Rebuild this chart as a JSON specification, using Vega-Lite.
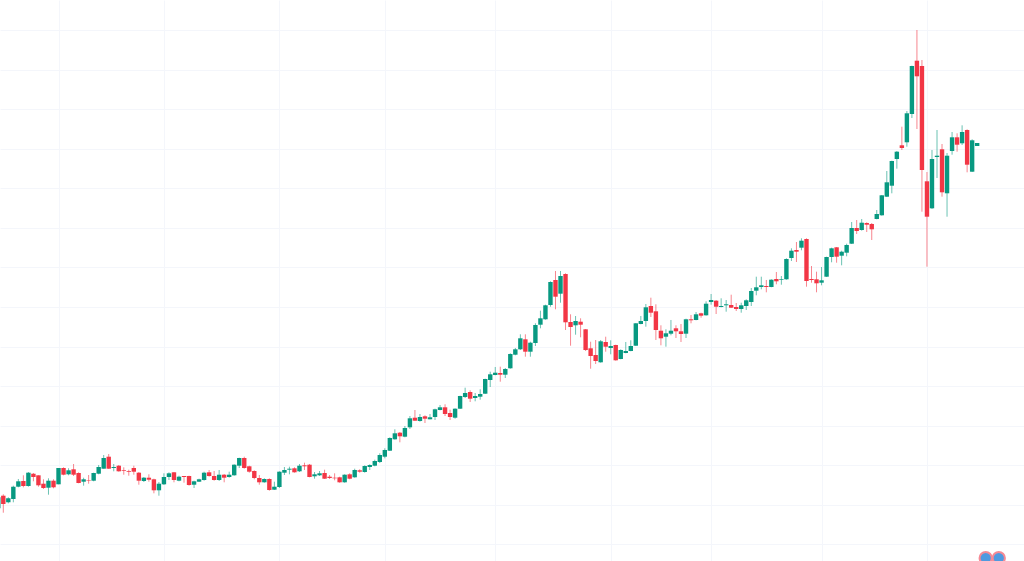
{"$schema":"https://vega.github.io/schema/vega-lite/v6.json","width":1024,"height":561,"padding":0,"autosize":{"type":"none"},"background":"#ffffff","view":{"stroke":null},
"datasets":{"logo":[{"i":195.7,"p":3},{"i":198.3,"p":3}],"candles":[
{"i":-1,"o":52.7,"h":64.3,"l":51,"c":63.7},{"i":0,"o":65.3,"h":66.7,"l":48.3,"c":57},{"i":1,"o":58.7,"h":63.7,"l":57.7,"c":62.7},{"i":2,"o":62,"h":75.3,"l":58.7,"c":74.3},{"i":3,"o":74.3,"h":82,"l":73.7,"c":79.7},{"i":4,"o":80,"h":85.7,"l":73.7,"c":75},{"i":5,"o":75,"h":89,"l":74.3,"c":88.3},{"i":6,"o":87.3,"h":88,"l":79.7,"c":84},{"i":7,"o":85.7,"h":85.7,"l":74.3,"c":75.7},{"i":8,"o":77.3,"h":81.7,"l":72,"c":73},{"i":9,"o":73.3,"h":82.7,"l":66.3,"c":80.3},
{"i":10,"o":80.3,"h":81.7,"l":72.7,"c":73.7},{"i":11,"o":76.7,"h":93,"l":76.7,"c":93},{"i":12,"o":93,"h":93.7,"l":85.7,"c":86.3},{"i":13,"o":86.7,"h":92.7,"l":85.7,"c":90.7},{"i":14,"o":91.7,"h":97,"l":85,"c":86.3},{"i":15,"o":88,"h":88.7,"l":77.7,"c":78},{"i":16,"o":79.3,"h":83.3,"l":75.3,"c":81.7},{"i":17,"o":81,"h":86,"l":77.3,"c":80.5},{"i":18,"o":80.3,"h":88.3,"l":79.7,"c":88},{"i":19,"o":87.3,"h":96,"l":86.7,"c":94},
{"i":20,"o":92.3,"h":106,"l":92.3,"c":103},{"i":21,"o":104.3,"h":107,"l":92,"c":92.3},{"i":22,"o":93,"h":97,"l":89.7,"c":94},{"i":23,"o":95.3,"h":96,"l":89.3,"c":89.7},{"i":24,"o":91,"h":93.7,"l":86.3,"c":90.3},{"i":25,"o":90,"h":91.3,"l":85.3,"c":89.3},{"i":26,"o":93,"h":95.3,"l":86.3,"c":89.3},{"i":27,"o":88.3,"h":89,"l":76.3,"c":80.3},{"i":28,"o":80,"h":84,"l":79,"c":83.3},{"i":29,"o":83.3,"h":86.7,"l":79.3,"c":81.3},
{"i":30,"o":81.7,"h":82.3,"l":67.7,"c":70.7},{"i":31,"o":70.7,"h":79,"l":65.3,"c":77.3},{"i":32,"o":76.7,"h":87.7,"l":76,"c":84},{"i":33,"o":84,"h":88.7,"l":81,"c":87.7},{"i":34,"o":88.7,"h":89,"l":78.7,"c":81},{"i":35,"o":80.3,"h":85.3,"l":79.7,"c":84.3},{"i":36,"o":85,"h":85,"l":78.3,"c":84},{"i":37,"o":85,"h":85.3,"l":75.3,"c":76},{"i":38,"o":76.3,"h":80.3,"l":73,"c":79.7},{"i":39,"o":79.3,"h":82.3,"l":79,"c":81.7},
{"i":40,"o":81,"h":89.3,"l":80.3,"c":88.3},{"i":41,"o":88.7,"h":91,"l":84.3,"c":85},{"i":42,"o":85,"h":90,"l":80.3,"c":81},{"i":43,"o":81,"h":91,"l":80,"c":86.3},{"i":44,"o":86.3,"h":87,"l":78.7,"c":83.3},{"i":45,"o":84,"h":89.3,"l":83.3,"c":86.3},{"i":46,"o":85.7,"h":96.7,"l":85.3,"c":96.3},{"i":47,"o":95.3,"h":103.3,"l":93,"c":103},{"i":48,"o":103,"h":104.3,"l":92.3,"c":93},{"i":49,"o":94.7,"h":95.3,"l":88.3,"c":89.3},
{"i":50,"o":90,"h":90.7,"l":81.7,"c":83},{"i":51,"o":83,"h":86,"l":76.3,"c":78.7},{"i":52,"o":78.7,"h":82.7,"l":78.3,"c":82},{"i":53,"o":82,"h":82.7,"l":70.3,"c":71},{"i":54,"o":71.3,"h":79.3,"l":71,"c":74.3},{"i":55,"o":74,"h":89.7,"l":73,"c":89.3},{"i":56,"o":88.3,"h":94,"l":86,"c":91},{"i":57,"o":91.3,"h":94.3,"l":86.7,"c":92.3},{"i":58,"o":92.7,"h":93.7,"l":88.3,"c":88.7},{"i":59,"o":89.7,"h":97,"l":89,"c":95.3},
{"i":60,"o":95.7,"h":98.3,"l":91,"c":94.7},{"i":61,"o":96.3,"h":97,"l":83.7,"c":84},{"i":62,"o":84.7,"h":89,"l":82.3,"c":86.7},{"i":63,"o":85.7,"h":90,"l":85,"c":87.7},{"i":64,"o":88,"h":91.3,"l":82,"c":82.3},{"i":65,"o":84.3,"h":86,"l":82,"c":83},{"i":66,"o":83.3,"h":87.7,"l":80.7,"c":82.7},{"i":67,"o":83.7,"h":84.3,"l":78.3,"c":78.7},{"i":68,"o":78.7,"h":86.7,"l":78.3,"c":86.3},{"i":69,"o":86.7,"h":87.7,"l":81.7,"c":82.3},
{"i":70,"o":83.7,"h":92.3,"l":83.3,"c":91},{"i":71,"o":90.7,"h":91.7,"l":88.3,"c":89.3},{"i":72,"o":89,"h":95.7,"l":88.3,"c":95},{"i":73,"o":94,"h":96.7,"l":91,"c":96},{"i":74,"o":95.3,"h":101.3,"l":94.7,"c":100},{"i":75,"o":99,"h":107.7,"l":98,"c":106},{"i":76,"o":104.3,"h":112.7,"l":102.7,"c":111},{"i":77,"o":110.3,"h":123.7,"l":110,"c":123},{"i":78,"o":121.7,"h":131.7,"l":121.3,"c":127.7},{"i":79,"o":128.3,"h":129,"l":118.7,"c":124.7},
{"i":80,"o":124.3,"h":135,"l":123.7,"c":133},{"i":81,"o":133.7,"h":145,"l":132,"c":142.7},{"i":82,"o":143.3,"h":151,"l":140,"c":140.3},{"i":83,"o":140,"h":147,"l":139.3,"c":144},{"i":84,"o":144.7,"h":145.7,"l":138,"c":142.3},{"i":85,"o":141.7,"h":147,"l":141.7,"c":143.7},{"i":86,"o":144,"h":152.3,"l":141,"c":151.7},{"i":87,"o":151,"h":156,"l":150.7,"c":153.7},{"i":88,"o":153.7,"h":156.7,"l":145,"c":147},{"i":89,"o":148,"h":151.3,"l":141,"c":144},
{"i":90,"o":143.3,"h":152.7,"l":142.3,"c":152.3},{"i":91,"o":152.3,"h":165.3,"l":152,"c":165},{"i":92,"o":164,"h":173.3,"l":163,"c":168},{"i":93,"o":169,"h":170.7,"l":159,"c":162.3},{"i":94,"o":163,"h":168,"l":159.7,"c":165},{"i":95,"o":164.3,"h":171.7,"l":161.3,"c":167},{"i":96,"o":167.3,"h":182.3,"l":167,"c":182},{"i":97,"o":181,"h":189.3,"l":174,"c":186.7},{"i":98,"o":186,"h":194,"l":185.7,"c":188.3},{"i":99,"o":188,"h":194.3,"l":179.3,"c":186.3},
{"i":100,"o":186.3,"h":193,"l":183,"c":192},{"i":101,"o":192.7,"h":207.7,"l":192.3,"c":207},{"i":102,"o":206.3,"h":213,"l":205.7,"c":211.7},{"i":103,"o":211.7,"h":226.7,"l":211,"c":222.7},{"i":104,"o":221.7,"h":226.7,"l":204.3,"c":209.3},{"i":105,"o":209.3,"h":219.3,"l":204.3,"c":218.3},{"i":106,"o":218,"h":237.7,"l":215,"c":236},{"i":107,"o":236.3,"h":250.3,"l":232.7,"c":242.7},{"i":108,"o":241.7,"h":256.3,"l":241.3,"c":255.7},{"i":109,"o":256,"h":279.7,"l":254.3,"c":279},
{"i":110,"o":281,"h":290,"l":251.7,"c":264.3},{"i":111,"o":267.3,"h":290,"l":258.3,"c":285},{"i":112,"o":287,"h":287.7,"l":231,"c":238.7},{"i":113,"o":239,"h":246.7,"l":215.3,"c":234},{"i":114,"o":235.7,"h":245,"l":226.3,"c":240},{"i":115,"o":239.3,"h":242.7,"l":223.7,"c":236.3},{"i":116,"o":231.7,"h":232,"l":210,"c":211},{"i":117,"o":212.7,"h":219.3,"l":192.3,"c":205},{"i":118,"o":206,"h":221,"l":197,"c":200},{"i":119,"o":198.7,"h":221,"l":198.3,"c":219.7},
{"i":120,"o":219,"h":224.3,"l":209.3,"c":214.3},{"i":121,"o":213,"h":220.7,"l":206.7,"c":215},{"i":122,"o":216,"h":216.3,"l":200.3,"c":200.7},{"i":123,"o":202,"h":211.7,"l":201.7,"c":211},{"i":124,"o":208,"h":219,"l":207.7,"c":210},{"i":125,"o":210,"h":220.7,"l":209.7,"c":215},{"i":126,"o":215.3,"h":238,"l":215,"c":237.7},{"i":127,"o":237,"h":245,"l":236.7,"c":240},{"i":128,"o":240,"h":257,"l":234.3,"c":253.7},{"i":129,"o":255,"h":263.3,"l":244,"c":248.3},
{"i":130,"o":249.7,"h":256.7,"l":221,"c":231},{"i":131,"o":230.3,"h":235.7,"l":215.7,"c":222.7},{"i":132,"o":224.3,"h":231.7,"l":214.3,"c":227.7},{"i":133,"o":227.3,"h":241,"l":225.7,"c":230.3},{"i":134,"o":232.7,"h":235.7,"l":223,"c":229.7},{"i":135,"o":229.7,"h":237,"l":219,"c":227},{"i":136,"o":227.3,"h":242.3,"l":223,"c":241.7},{"i":137,"o":241.7,"h":246,"l":237.7,"c":240.7},{"i":138,"o":241,"h":249,"l":240.7,"c":246.7},{"i":139,"o":247.7,"h":248.3,"l":243.3,"c":245.3},
{"i":140,"o":245.7,"h":259.7,"l":245.3,"c":257.3},{"i":141,"o":259,"h":267,"l":256.3,"c":261},{"i":142,"o":260.3,"h":261,"l":247,"c":254.3},{"i":143,"o":254,"h":262.7,"l":253.7,"c":255},{"i":144,"o":255.7,"h":261,"l":249.3,"c":256.7},{"i":145,"o":256,"h":266.3,"l":253,"c":253.3},{"i":146,"o":254,"h":258,"l":250,"c":252},{"i":147,"o":252,"h":258.3,"l":248.3,"c":255.7},{"i":148,"o":255,"h":261.7,"l":251,"c":260.7},{"i":149,"o":259,"h":273,"l":255,"c":270},
{"i":150,"o":270.3,"h":284.3,"l":265.7,"c":273.7},{"i":151,"o":274,"h":284.3,"l":271.7,"c":275.7},{"i":152,"o":275,"h":281,"l":268.7,"c":274},{"i":153,"o":274,"h":281.7,"l":273.7,"c":281.3},{"i":154,"o":282,"h":289,"l":276.7,"c":279.7},{"i":155,"o":281.3,"h":285,"l":276.3,"c":282},{"i":156,"o":281.7,"h":302.7,"l":281.3,"c":302},{"i":157,"o":303,"h":312.7,"l":300,"c":310.3},{"i":158,"o":311,"h":319,"l":299,"c":309.3},{"i":159,"o":313.3,"h":322.7,"l":310.7,"c":320.3},
{"i":160,"o":322,"h":322.7,"l":274.3,"c":280},{"i":161,"o":282,"h":295,"l":278.3,"c":281},{"i":162,"o":281.7,"h":289.3,"l":268.7,"c":277.7},{"i":163,"o":278.3,"h":294,"l":275.7,"c":280.7},{"i":164,"o":284.3,"h":304.3,"l":284,"c":304},{"i":165,"o":304,"h":313.3,"l":298.7,"c":312.7},{"i":166,"o":313.7,"h":314,"l":298.3,"c":304.3},{"i":167,"o":305.3,"h":310.3,"l":295.7,"c":309.3},{"i":168,"o":308.3,"h":317.3,"l":304.7,"c":316},{"i":169,"o":317.3,"h":339,"l":317,"c":333},
{"i":170,"o":333,"h":341,"l":327,"c":330},{"i":171,"o":331,"h":342,"l":330.3,"c":338.3},{"i":172,"o":338,"h":338.7,"l":329,"c":336.3},{"i":173,"o":337,"h":338,"l":321,"c":331.7},{"i":174,"o":342,"h":351,"l":341.7,"c":347},{"i":175,"o":345.7,"h":366,"l":345.3,"c":365.7},{"i":176,"o":364.3,"h":390,"l":364,"c":378.7},{"i":177,"o":375.3,"h":400.3,"l":367.7,"c":400},{"i":178,"o":402,"h":410,"l":392.3,"c":409.3},{"i":179,"o":415.7,"h":434.3,"l":411,"c":413},
{"i":180,"o":418.7,"h":450,"l":414.3,"c":447.7},{"i":181,"o":447,"h":495.3,"l":443,"c":495},{"i":182,"o":500.3,"h":531,"l":432,"c":484.7},{"i":183,"o":495,"h":501,"l":349.3,"c":391},{"i":184,"o":379.7,"h":389,"l":294.3,"c":344.3},{"i":185,"o":352.7,"h":411,"l":352,"c":402},{"i":186,"o":404,"h":431,"l":383,"c":405.3},{"i":187,"o":411.7,"h":417,"l":364.3,"c":368.7},{"i":188,"o":367.7,"h":408,"l":344.3,"c":405.3},{"i":189,"o":410,"h":429,"l":406.3,"c":423.7},
{"i":190,"o":423.7,"h":427.7,"l":409.3,"c":416.3},{"i":191,"o":417.7,"h":435.7,"l":416,"c":429},{"i":192,"o":431,"h":431.7,"l":388.7,"c":396.3},{"i":193,"o":389.3,"h":421.7,"l":389,"c":420.7},{"i":194,"o":415,"h":418,"l":415,"c":418}
]},
"data":{"name":"candles"},
"encoding":{
"x":{"field":"i","type":"quantitative","scale":{"domain":[-0.657,203.33],"nice":false,"zero":false,"padding":0},"axis":{"title":null,"labels":false,"ticks":false,"domain":false,"grid":true,"gridColor":"#f4f6fb","gridWidth":1,"values":[11,32,55,76,98,121,141,163,184]}}
},
"layer":[
{"mark":{"type":"rule","strokeWidth":1,"opacity":0.6},
"encoding":{"y":{"field":"l","type":"quantitative","scale":{"domain":[0,561],"nice":false,"zero":false},"axis":{"title":null,"labels":false,"ticks":false,"domain":false,"grid":true,"gridColor":"#f4f6fb","gridWidth":1,"values":[531,491.4,451.9,412.3,372.8,333.2,293.6,254.1,214.5,175,135.4,95.8,56.3,16.7]}},"y2":{"field":"h"},
"color":{"condition":{"test":"datum.c>=datum.o","value":"#089981"},"value":"#f23645"}}},
{"mark":{"type":"bar","size":4.4},
"encoding":{"y":{"field":"o","type":"quantitative"},"y2":{"field":"c"},
"color":{"condition":{"test":"datum.c>=datum.o","value":"#089981"},"value":"#f23645"}}},
{"data":{"name":"logo"},"mark":{"type":"point","shape":"circle","filled":true,"size":150,"fill":"#4f9ae0","stroke":"#f58a95","strokeWidth":2,"opacity":1},
"encoding":{"y":{"field":"p","type":"quantitative"}}}
]}
